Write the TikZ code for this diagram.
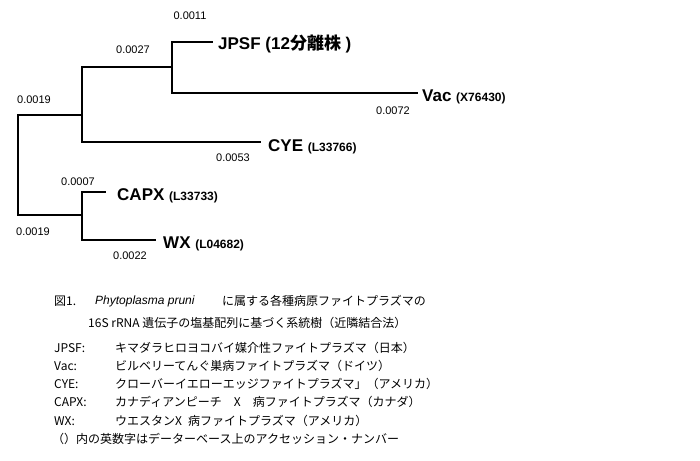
\documentclass[tikz,border=0pt]{standalone}
\usepackage{fontspec}
\setmainfont{Liberation Sans}
\newfontfamily\cjk{Noto Sans CJK JP}
\newcommand\accn[1]{{\fontsize{12}{12}\selectfont\bfseries #1}}
\begin{document}
\begin{tikzpicture}[x=1pt,y=-1pt,
  br/.style={line width=2.4pt,line cap=rect},
  num/.style={font=\fontsize{11}{11}\selectfont,inner sep=0pt},
  tip/.style={font=\fontsize{17}{17}\selectfont\bfseries,anchor=west,inner sep=0pt},
  captxt/.style={font=\cjk\fontsize{12}{12}\selectfont,anchor=west,inner sep=0pt}]
\useasboundingbox (0,0) rectangle (700,460);
\draw[br] (82,67) -- (82,142);
\draw[br] (18,115) -- (18,215);
\draw[br] (18,115) -- (82,115);
\draw[br] (18,215) -- (82,215);
\draw[br] (82,67) -- (172,67);
\draw[br] (172,42) -- (172,93);
\draw[br] (172,42) -- (212,42);
\draw[br] (172,93) -- (417,93);
\draw[br] (82,142) -- (260,142);
\draw[br] (82,192) -- (82,240);
\draw[br] (82,192) -- (105,192);
\draw[br] (82,240) -- (155,240);
\node[tip] (jpsf) at (218,44) {JPSF (12{\cjk 分離株} )};
\node[tip] (vac) at (422,97) {Vac \accn{(X76430)}};
\node[tip] (cye) at (268,147) {CYE \accn{(L33766)}};
\node[tip] (capx) at (117,196) {CAPX \accn{(L33733)}};
\node[tip] (wx) at (163,244) {WX \accn{(L04682)}};
\node[num] (n1) at (190,16) {0.0011};
\node[num] (n2) at (133,50) {0.0027};
\node[num] (n3) at (34,100) {0.0019};
\node[num] (n4) at (393,111) {0.0072};
\node[num] (n5) at (233,158) {0.0053};
\node[num] (n6) at (78,182) {0.0007};
\node[num] (n7) at (33,232) {0.0019};
\node[num] (n8) at (130,256) {0.0022};
\node[captxt] (c1) at (54,301) {図1.};
\node[captxt] (c1b) at (95,301) {\itshape\fontspec{Liberation Sans}Phytoplasma pruni};
\node[captxt] (c1c) at (222,301) {に属する各種病原ファイトプラズマの};
\node[captxt] (c2) at (88,323) {16S rRNA 遺伝子の塩基配列に基づく系統樹（近隣結合法）};
\node[captxt] (d1) at (54,348) {JPSF:};
\node[captxt] (e1) at (115,348) {キマダラヒロヨコバイ媒介性ファイトプラズマ（日本）};
\node[captxt] (d2) at (54,366) {Vac:};
\node[captxt] (e2) at (115,366) {ビルベリーてんぐ巣病ファイトプラズマ（ドイツ）};
\node[captxt] (d3) at (54,384) {CYE:};
\node[captxt] (e3) at (115,384) {クローバーイエローエッジファイトプラズマ」（アメリカ）};
\node[captxt] (d4) at (54,402) {CAPX:};
\node[captxt] (e4) at (115,402) {カナディアンピーチ\quad X\quad 病ファイトプラズマ（カナダ）};
\node[captxt] (d5) at (54,421) {WX:};
\node[captxt] (e5) at (115,421) {ウエスタンX\enspace 病ファイトプラズマ（アメリカ）};
\node[captxt] (f) at (52,439) {（）内の英数字はデーターベース上のアクセッション・ナンバー};
\end{tikzpicture}
\end{document}
